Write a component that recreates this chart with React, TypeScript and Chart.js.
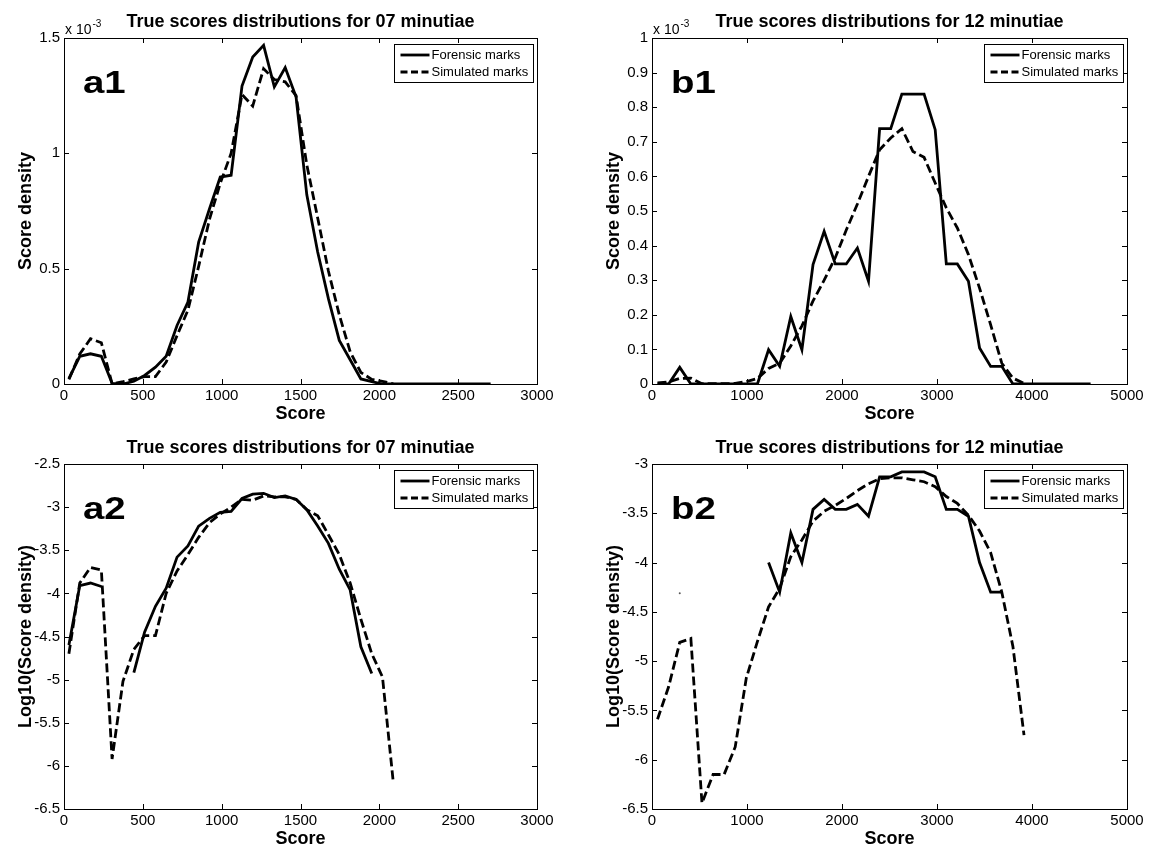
import React, { useEffect, useRef } from "react";
import { Chart, registerables } from "chart.js";

Chart.register(...registerables);

const FONT = '"Liberation Sans", Arial, Helvetica, sans-serif';

// ---------- Panel a (07 minutiae) ----------
const scoresA = [31, 100, 168, 237, 305, 374, 443, 511, 580, 648, 717, 786, 854, 923, 991, 1060, 1129, 1197, 1266, 1334, 1403, 1472, 1540, 1609, 1677, 1746, 1815, 1883, 1952, 2020, 2089, 2158, 2226, 2295, 2363, 2432, 2501, 2569, 2638, 2706];
// score density in units of 1e-3
const forensicA1 = [0.023, 0.12, 0.131, 0.12, 0.003, 0, 0.012, 0.037, 0.073, 0.12, 0.254, 0.355, 0.615, 0.76, 0.897, 0.905, 1.292, 1.418, 1.468, 1.288, 1.372, 1.244, 0.82, 0.572, 0.37, 0.189, 0.105, 0.022, 0.01, 0, 0, 0, 0, 0, 0, 0, 0, 0, 0, 0];
const simulatedA1 = [0.02, 0.13, 0.196, 0.179, 0.001, 0.01, 0.022, 0.032, 0.032, 0.095, 0.21, 0.32, 0.51, 0.715, 0.87, 1.0, 1.255, 1.205, 1.367, 1.32, 1.31, 1.25, 0.95, 0.72, 0.49, 0.3, 0.14, 0.05, 0.02, 0.011, 0.001];
// log10(score density)
const forensicA2 = [-4.6, -3.91, -3.88, -3.92, null, null, -4.92, -4.45, -4.15, -3.94, -3.58, -3.45, -3.22, -3.13, -3.06, -3.05, -2.9, -2.85, -2.84, -2.89, -2.87, -2.91, -3.03, -3.22, -3.42, -3.72, -3.96, -4.62, -4.93];
const simulatedA2 = [-4.7, -3.88, -3.7, -3.73, -5.92, -5.02, -4.65, -4.49, -4.49, -4.0, -3.74, -3.55, -3.35, -3.18, -3.08, -3.0, -2.91, -2.92, -2.87, -2.88, -2.88, -2.91, -3.03, -3.1, -3.32, -3.55, -3.88, -4.3, -4.7, -4.97, -6.2];

// ---------- Panel b (12 minutiae) ----------
const scoresB = [58, 175, 292, 409, 526, 643, 759, 876, 993, 1110, 1227, 1344, 1461, 1578, 1695, 1812, 1929, 2045, 2162, 2279, 2396, 2513, 2630, 2747, 2864, 2981, 3098, 3214, 3331, 3448, 3565, 3682, 3799, 3916, 4033, 4150, 4267, 4384, 4500, 4617];
const forensicB1 = [0, 0, 0.048, 0, 0, 0, 0, 0, 0, 0, 0.099, 0.051, 0.195, 0.099, 0.345, 0.441, 0.347, 0.347, 0.393, 0.297, 0.738, 0.738, 0.838, 0.838, 0.838, 0.735, 0.347, 0.347, 0.297, 0.104, 0.051, 0.051, 0, 0, 0, 0, 0, 0, 0, 0];
const simulatedB1 = [0.003, 0.006, 0.016, 0.017, 0.001, 0.001, 0.001, 0.0015, 0.007, 0.016, 0.045, 0.06, 0.11, 0.168, 0.24, 0.3, 0.365, 0.445, 0.52, 0.6, 0.677, 0.711, 0.738, 0.672, 0.655, 0.581, 0.509, 0.451, 0.374, 0.277, 0.171, 0.06, 0.017, 0.002];
const forensicB2 = [null, null, -4.31, null, null, null, null, null, null, null, -4.0, -4.3, -3.7, -4.0, -3.46, -3.36, -3.46, -3.46, -3.41, -3.53, -3.13, -3.13, -3.08, -3.08, -3.08, -3.13, -3.46, -3.46, -3.53, -4.0, -4.3, -4.3];
const simulatedB2 = [-5.59, -5.26, -4.81, -4.77, -6.44, -6.15, -6.15, -5.87, -5.17, -4.8, -4.45, -4.26, -3.94, -3.77, -3.58, -3.48, -3.42, -3.35, -3.27, -3.2, -3.15, -3.14, -3.14, -3.16, -3.18, -3.23, -3.33, -3.4, -3.52, -3.68, -3.9, -4.3, -4.85, -5.75];

const TITLE_A = "True scores distributions for 07 minutiae";
const TITLE_B = "True scores distributions for 12 minutiae";
const LEGEND_LABELS = ["Forensic marks", "Simulated marks"];

type PanelSpec = {
  key: string;
  cx: number; cy: number; w: number; h: number;
  l: number; r: number; t: number; b: number;
  xs: number[]; forensic: (number | null)[]; simulated: (number | null)[];
  xMax: number; xStep: number; yMin: number; yMax: number; yStep: number;
  title: string; ylabel: string; panel: string; sci: boolean;
};

const fmt = (v: any) => String(Math.round(Number(v) * 1000) / 1000);

const toPoints = (xs: number[], ys: (number | null)[]) => ys.map((y, i) => ({ x: xs[i], y }));

const decoPlugin = {
  id: "deco",
  beforeDatasetsDraw(chart: any) {
    const { ctx, chartArea, scales } = chart;
    const { left, right, top, bottom } = chartArea;
    ctx.save();
    ctx.strokeStyle = "#000";
    ctx.lineWidth = 1;
    const line = (x1: number, y1: number, x2: number, y2: number) => {
      ctx.beginPath();
      ctx.moveTo(x1, y1);
      ctx.lineTo(x2, y2);
      ctx.stroke();
    };
    const tl = 5;
    scales.x.ticks.forEach((t: any) => {
      const px = Math.round(scales.x.getPixelForValue(t.value)) + 0.5;
      line(px, bottom, px, bottom - tl);
      line(px, top, px, top + tl);
    });
    scales.y.ticks.forEach((t: any) => {
      const py = Math.round(scales.y.getPixelForValue(t.value)) + 0.5;
      line(left, py, left + tl, py);
      line(right, py, right - tl, py);
    });
    ctx.strokeRect(Math.round(left) + 0.5, Math.round(top) + 0.5, Math.round(right - left), Math.round(bottom - top));
    ctx.restore();
  },
  afterDraw(chart: any, _args: any, o: any) {
    const { ctx, chartArea } = chart;
    const { left, right, top, bottom } = chartArea;
    ctx.save();
    ctx.fillStyle = "#000";
    ctx.textBaseline = "alphabetic";
    // title
    ctx.font = `bold 18px ${FONT}`;
    ctx.textAlign = "center";
    ctx.fillText(o.title, (left + right) / 2, top - 11);
    // x label
    ctx.fillText("Score", (left + right) / 2, bottom + 34.5);
    // y label
    ctx.save();
    ctx.translate(left - 33, (top + bottom) / 2);
    ctx.rotate(-Math.PI / 2);
    ctx.fillText(o.ylabel, 0, 0);
    ctx.restore();
    // scale factor
    if (o.sci) {
      ctx.textAlign = "left";
      ctx.font = `14px ${FONT}`;
      ctx.fillText("x 10", left + 1, top - 4.5);
      const w = ctx.measureText("x 10").width;
      ctx.font = `10px ${FONT}`;
      ctx.fillText("-3", left + 2 + w, top - 11.5);
    }
    // panel label
    ctx.save();
    ctx.translate(left + 19, top + 54.5);
    ctx.scale(1.2, 1);
    ctx.font = `bold 32px ${FONT}`;
    ctx.textAlign = "left";
    ctx.fillText(o.panel, 0, 0);
    ctx.restore();
    // legend
    const bw = 139, bh = 38;
    const bx = Math.round(right - 4 - bw) + 0.5;
    const by = Math.round(top + 5.5) + 0.5;
    ctx.fillStyle = "#fff";
    ctx.fillRect(bx, by, bw, bh);
    ctx.strokeStyle = "#000";
    ctx.lineWidth = 1;
    ctx.strokeRect(bx, by, bw, bh);
    const rows = [by + 10.5, by + 27.5];
    rows.forEach((ry, i) => {
      ctx.beginPath();
      ctx.lineWidth = 2.8;
      ctx.setLineDash(i === 0 ? [] : [7, 3.5]);
      ctx.moveTo(bx + 6, ry);
      ctx.lineTo(bx + 35, ry);
      ctx.stroke();
      ctx.setLineDash([]);
      ctx.fillStyle = "#000";
      ctx.font = `13px ${FONT}`;
      ctx.textAlign = "left";
      ctx.textBaseline = "middle";
      ctx.fillText(LEGEND_LABELS[i], bx + 37, ry + 0.5);
    });
    ctx.restore();
  },
};

function buildConfig(p: PanelSpec): any {
  const isolatedRadius = (c: any) => {
    const d = c.dataset.data;
    const i = c.dataIndex;
    if (!d[i] || d[i].y == null) return 0;
    const prev = i > 0 ? d[i - 1].y : null;
    const next = i < d.length - 1 ? d[i + 1].y : null;
    return prev == null && next == null ? 1 : 0;
  };
  return {
    type: "line",
    data: {
      datasets: [
        {
          label: LEGEND_LABELS[0],
          data: toPoints(p.xs, p.forensic),
          borderColor: "#000",
          backgroundColor: "#000",
          borderWidth: 2.8,
          pointRadius: isolatedRadius,
          pointBorderWidth: 0,
          pointBackgroundColor: "#555",
          tension: 0,
          fill: false,
          spanGaps: false,
        },
        {
          label: LEGEND_LABELS[1],
          data: toPoints(p.xs, p.simulated),
          borderColor: "#000",
          borderWidth: 2.8,
          borderDash: [9, 4],
          pointRadius: 0,
          tension: 0,
          fill: false,
          spanGaps: false,
        },
      ],
    },
    options: {
      responsive: false,
      animation: false,
      events: [],
      layout: { padding: { left: 0, top: p.t, right: p.w - p.r, bottom: 0 } },
      scales: {
        x: {
          type: "linear",
          min: 0,
          max: p.xMax,
          afterFit: (s: any) => { s.height = p.h - p.b; },
          grid: { display: false, drawTicks: false },
          border: { display: false },
          ticks: {
            stepSize: p.xStep,
            autoSkip: false,
            maxRotation: 0,
            padding: 3,
            color: "#000",
            font: { size: 15, family: FONT },
            callback: fmt,
          },
        },
        y: {
          type: "linear",
          min: p.yMin,
          max: p.yMax,
          afterFit: (s: any) => { s.width = p.l; },
          grid: { display: false, drawTicks: false },
          border: { display: false },
          ticks: {
            stepSize: p.yStep,
            autoSkip: false,
            padding: 4,
            color: "#000",
            font: { size: 15, family: FONT },
            callback: fmt,
          },
        },
      },
      plugins: {
        legend: { display: false },
        tooltip: { enabled: false },
        deco: { title: p.title, ylabel: p.ylabel, panel: p.panel, sci: p.sci },
      },
    },
    plugins: [decoPlugin],
  };
}

const PANELS: PanelSpec[] = [
  {
    key: "a1", cx: 0, cy: 0, w: 574, h: 424, l: 64, r: 537, t: 38, b: 384,
    xs: scoresA, forensic: forensicA1, simulated: simulatedA1,
    xMax: 3000, xStep: 500, yMin: 0, yMax: 1.5, yStep: 0.5,
    title: TITLE_A, ylabel: "Score density", panel: "a1", sci: true,
  },
  {
    key: "b1", cx: 574, cy: 0, w: 575, h: 424, l: 78, r: 553, t: 38, b: 384,
    xs: scoresB, forensic: forensicB1, simulated: simulatedB1,
    xMax: 5000, xStep: 1000, yMin: 0, yMax: 1, yStep: 0.1,
    title: TITLE_B, ylabel: "Score density", panel: "b1", sci: true,
  },
  {
    key: "a2", cx: 0, cy: 424, w: 574, h: 425, l: 64, r: 537, t: 40, b: 385,
    xs: scoresA, forensic: forensicA2, simulated: simulatedA2,
    xMax: 3000, xStep: 500, yMin: -6.5, yMax: -2.5, yStep: 0.5,
    title: TITLE_A, ylabel: "Log10(Score density)", panel: "a2", sci: false,
  },
  {
    key: "b2", cx: 574, cy: 424, w: 575, h: 425, l: 78, r: 553, t: 40, b: 385,
    xs: scoresB, forensic: forensicB2, simulated: simulatedB2,
    xMax: 5000, xStep: 1000, yMin: -6.5, yMax: -3, yStep: 0.5,
    title: TITLE_B, ylabel: "Log10(Score density)", panel: "b2", sci: false,
  },
];

function Panel({ spec }: { spec: PanelSpec }) {
  const ref = useRef<HTMLCanvasElement>(null);
  useEffect(() => {
    if (!ref.current) return;
    const chart = new Chart(ref.current, buildConfig(spec));
    return () => chart.destroy();
  }, [spec]);
  return (
    <canvas
      ref={ref}
      width={spec.w}
      height={spec.h}
      style={{ position: "absolute", left: spec.cx, top: spec.cy, width: spec.w, height: spec.h }}
    />
  );
}

export default function App() {
  useEffect(() => {
    document.body.style.margin = "0";
    document.body.style.background = "#fff";
  }, []);
  return (
    <div style={{ position: "absolute", left: 0, top: 0, width: 1149, height: 849, background: "#fff", overflow: "hidden" }}>
      {PANELS.map((p) => (
        <Panel key={p.key} spec={p} />
      ))}
    </div>
  );
}
